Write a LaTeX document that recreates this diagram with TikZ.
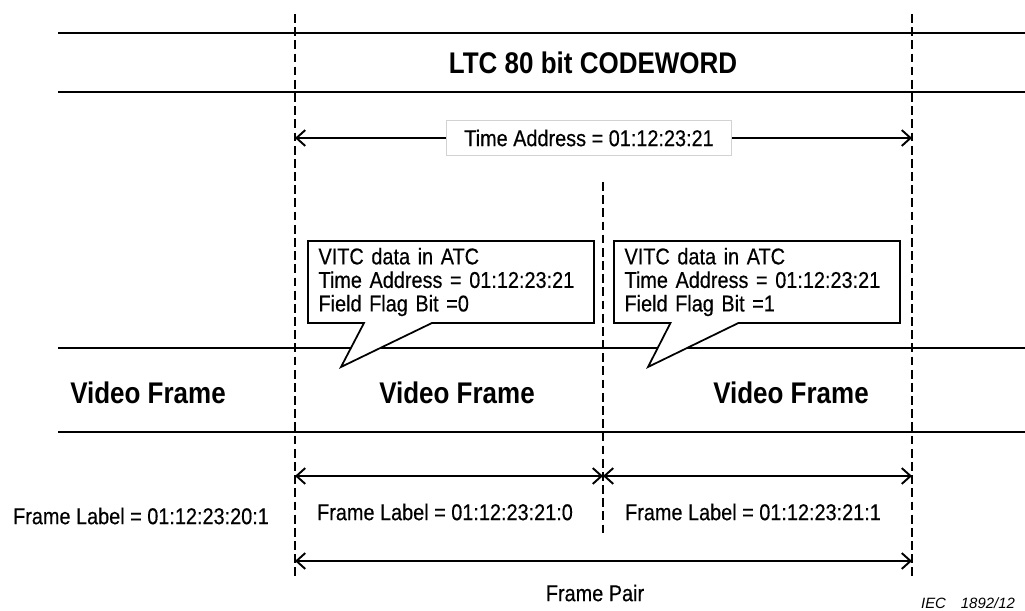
\documentclass[tikz,border=0pt]{standalone}
\usepackage{fontspec}
\setmainfont{Liberation Sans}
\newfontfamily\condfont[FakeStretch=0.87]{Liberation Sans}
\newfontfamily\labelfont[FakeStretch=0.87, FakeBold=0.4]{Liberation Sans}
\usetikzlibrary{arrows.meta, shapes.callouts}

\begin{document}
\begin{tikzpicture}[x=0.02cm, y=-0.02cm,
    font=\labelfont\fontsize{13}{13.4}\selectfont,
    rule/.style={line width=1.1pt},
    guide/.style={line width=1pt, dash pattern=on 5pt off 2.5pt},
    span/.style={line width=1.1pt,
      {Straight Barb[length=5pt,width=9pt]}-{Straight Barb[length=5pt,width=9pt]}},
    big/.style={font=\condfont\bfseries\fontsize{17}{20}\selectfont},
    bubble/.style={rectangle callout, draw, line width=1pt, fill=white,
      align=left, text width=5.3cm, minimum height=1.64cm,
      inner xsep=0.21cm, inner ysep=0pt, callout pointer width=1.36cm}]
  \useasboundingbox (0,0) rectangle (1025,611);

  % codeword and video rows
  \foreach \y in {33, 92, 348, 432} {
    \draw[rule] (58,\y) -- (1025,\y);
  }
  % frame boundaries
  \draw[guide] (295,14) -- (295,580);
  \draw[guide] (912,14) -- (912,580);
  \draw[guide] (603,182) -- (603,535);

  \node[big] (title) at (593,63) {LTC 80 bit CODEWORD};

  % time address of the codeword
  \coordinate (cwL) at (295,138);
  \coordinate (cwR) at (912,138);
  \draw[span] (cwL) -- (cwR);
  \node[draw=gray!35, fill=white, minimum width=5.7cm, minimum height=0.7cm]
    (taddr) at (589,138) {Time Address = 01:12:23:21};

  % VITC callouts
  \node[bubble, callout absolute pointer={(341,367)}] (vitcA) at (451,282)
    {VITC data in ATC\\Time Address = 01:12:23:21\\Field Flag Bit =0};
  \node[bubble, callout absolute pointer={(648,367)}] (vitcB) at (757,282)
    {VITC data in ATC\\Time Address = 01:12:23:21\\Field Flag Bit =1};

  % video frames
  \foreach \x/\nm in {148/vfPrev, 457/vfA, 791/vfB} {
    \node[big] (\nm) at (\x,393) {Video Frame};
  }

  % frame labels
  \coordinate (f0) at (295,476);
  \coordinate (f1) at (603,476);
  \coordinate (f2) at (912,476);
  \draw[span] (f0) -- (f1);
  \draw[span] (f1) -- (f2);
  \node (flPrev) at (141,516) {Frame Label = 01:12:23:20:1};
  \node (flA) at (445,512) {Frame Label = 01:12:23:21:0};
  \node (flB) at (753,512) {Frame Label = 01:12:23:21:1};

  % frame pair
  \coordinate (p0) at (295,561);
  \coordinate (p1) at (912,561);
  \draw[span] (p0) -- (p1);
  \node (pair) at (595,593) {Frame Pair};

  \node[font=\rmfamily\itshape\fontsize{8.5}{10}\selectfont] (iec) at (968,603)
    {IEC\quad 1892/12};
\end{tikzpicture}
\end{document}
